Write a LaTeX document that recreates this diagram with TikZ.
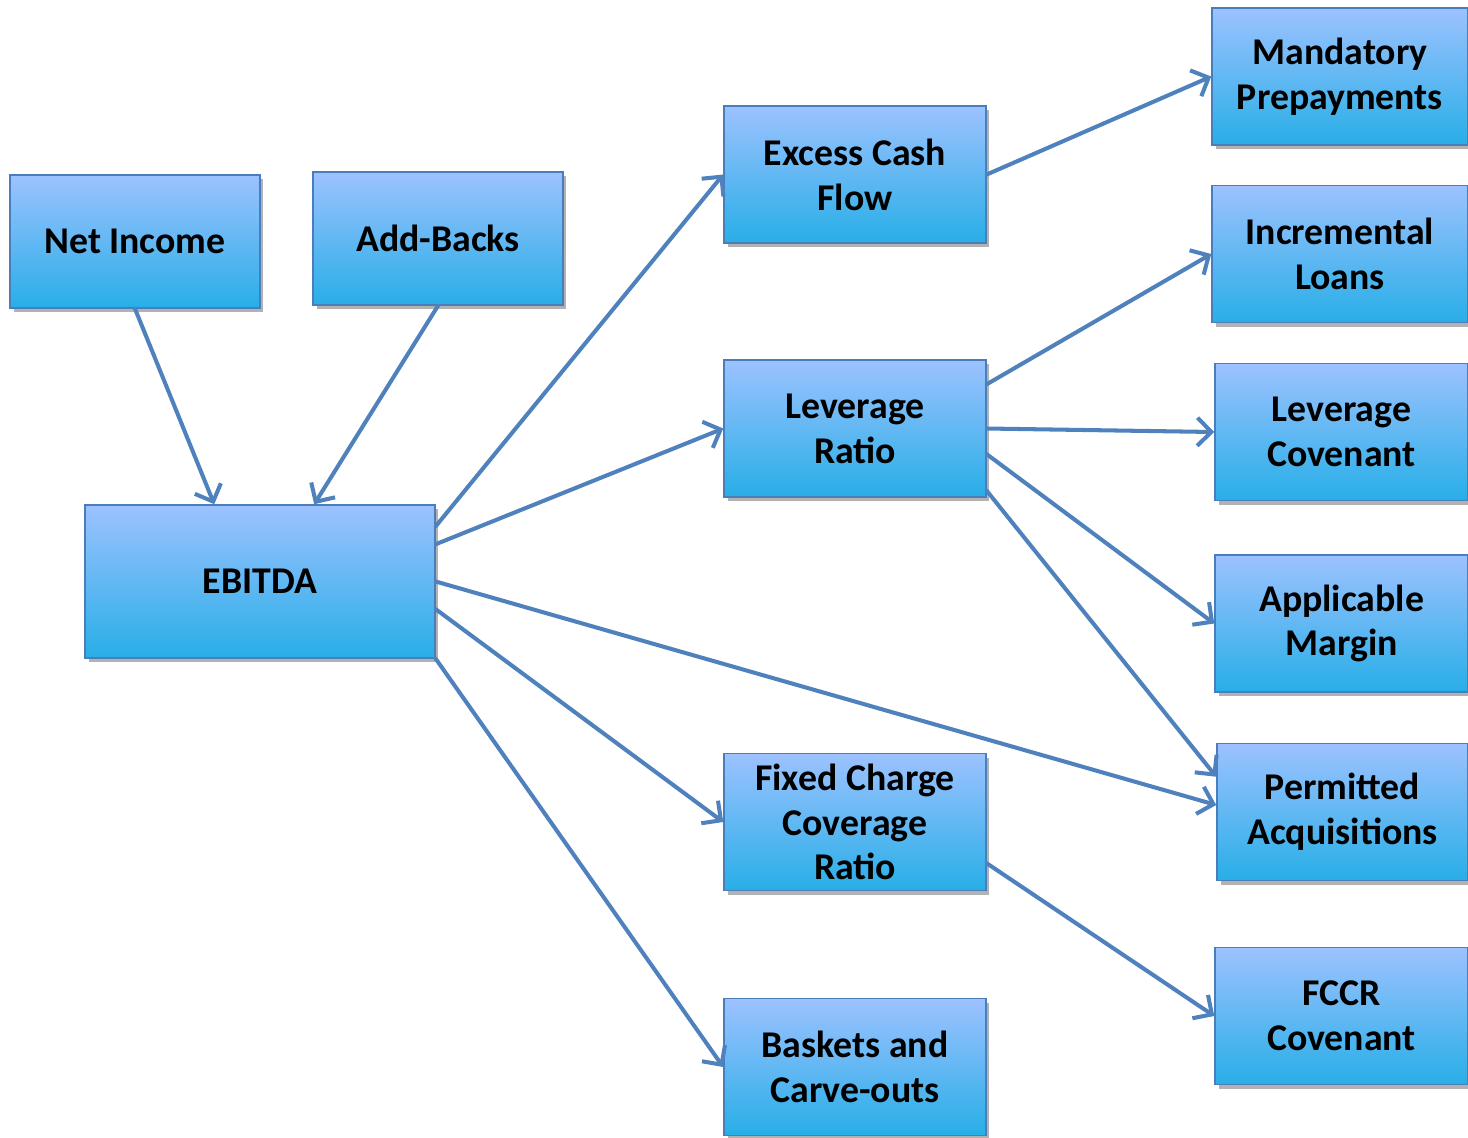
\documentclass[tikz,border=0pt]{standalone}
\usepackage{fontspec}
\setmainfont{Carlito}
\usetikzlibrary{arrows.meta}
\usetikzlibrary{calc}
\usetikzlibrary{shadows}
\usetikzlibrary{positioning}

\definecolor{boxtop}{HTML}{9CC2FF}
\definecolor{boxbottom}{HTML}{28AEE7}
\definecolor{boxline}{HTML}{4A7EBB}
\definecolor{arrowline}{HTML}{4F81BD}

\tikzset{
  termbox/.style={draw=boxline,line width=0.9pt,rectangle,align=center,
    top color=boxtop,bottom color=boxbottom,
    minimum height=2.74cm,minimum width=5.24cm,inner sep=0pt,
    font=\fontsize{21.5}{25.5}\selectfont\bfseries,
    drop shadow={shadow xshift=2pt,shadow yshift=-2.5pt,fill=black,opacity=0.3}},
  link/.style={every edge/.style={draw=arrowline,line width=2.3pt,line cap=round,
    -{Straight Barb[length=8pt,width=16pt,line width=2.3pt]}}}
}

\begin{document}
\begin{tikzpicture}[x=0.02cm,y=-0.02cm]

  \useasboundingbox (0,0) rectangle (1468,1137);

  % left column
  \node [termbox,minimum width=5cm,minimum height=2.66cm] (NetIncome) at (135,241.5) {Net Income};
  \node [termbox,minimum width=5cm,minimum height=2.66cm] (AddBacks)  at (438,238.5) {Add-Backs};
  \node [termbox,minimum width=7cm,minimum height=3.06cm] (EBITDA)    at (260,581.5) {EBITDA};

  % middle column
  \node [termbox] (ExcessCF)  at (855,174.5) {Excess Cash\\Flow};
  \node [termbox] (LevRatio)  at (855,428.5) {Leverage\\Ratio};
  \node [termbox] (FixedCCR)  at (855,822)   {Fixed Charge\\Coverage\\Ratio};
  \node [termbox] (Baskets)   at (855,1067)  {Baskets and\\Carve-outs};

  % right column
  \node [termbox,minimum width=5.12cm] (MandPrep) at (1340,76.5)   {Mandatory\\Prepayments};
  \node [termbox,minimum width=5.12cm] (IncLoans) at (1340,254)    {Incremental\\Loans};
  \node [termbox,minimum width=5.06cm] (LevCov)   at (1341.5,432)  {Leverage\\Covenant};
  \node [termbox,minimum width=5.06cm] (AppMargin) at (1341.5,623.5) {Applicable\\Margin};
  \node [termbox,minimum width=5.02cm] (PermAcq)  at (1342.5,812)  {Permitted\\Acquisitions};
  \node [termbox,minimum width=5.06cm] (FCCRCov)  at (1341.5,1016) {FCCR\\Covenant};

  \path [link]
    (NetIncome.south) edge ([xshift=2.6cm]EBITDA.north west)
    (AddBacks.south)  edge ([xshift=4.6cm]EBITDA.north west)
    ([yshift=-0.44cm]EBITDA.north east) edge (ExcessCF.west)
    ([yshift=-0.8cm]EBITDA.north east)  edge (LevRatio.west)
    (EBITDA.east)                       edge ([yshift=0.14cm]PermAcq.west)
    ([yshift=-2.1cm]EBITDA.north east)  edge (FixedCCR.west)
    (EBITDA.south east)                 edge (Baskets.west)
    (ExcessCF.east) edge (MandPrep.west)
    ([yshift=-0.5cm]LevRatio.north east) edge (IncLoans.west)
    (LevRatio.east)                      edge (LevCov.west)
    ([yshift=-1.9cm]LevRatio.north east) edge (AppMargin.west)
    ([yshift=0.14cm]LevRatio.south east) edge ([yshift=-0.68cm]PermAcq.north west)
    ([yshift=0.56cm]FixedCCR.south east) edge (FCCRCov.west);

\end{tikzpicture}
\end{document}
